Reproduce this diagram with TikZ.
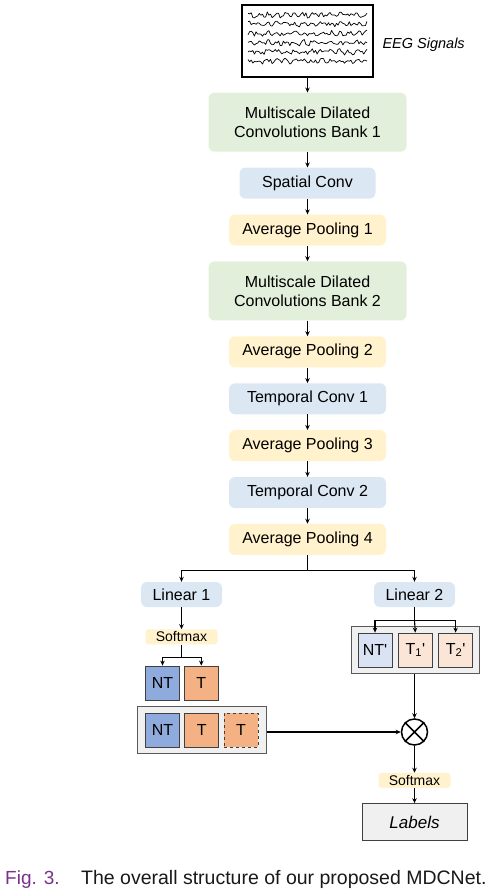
\documentclass[tikz,border=0pt]{standalone}
\usepackage{fontspec}
\setmainfont{Liberation Sans}
\usetikzlibrary{arrows.meta, positioning, fit, calc, backgrounds}
\definecolor{convgreen}{RGB}{226,239,218}
\definecolor{convblue}{RGB}{220,231,244}
\definecolor{poolyellow}{RGB}{255,242,204}
\definecolor{ntblue}{RGB}{143,170,220}
\definecolor{torange}{RGB}{244,177,131}
\definecolor{ntlight}{RGB}{218,227,243}
\definecolor{tlight}{RGB}{251,229,214}
\definecolor{boxgray}{RGB}{240,240,240}
\definecolor{figpurple}{RGB}{122,48,140}

\begin{document}
\begin{tikzpicture}[x=1pt, y=-1pt,
                every node/.style={font=\fontsize{16}{19}\selectfont},
                block/.style={rounded corners=6pt, minimum height=31pt, align=center, inner sep=0pt},
                bank/.style={block, fill=convgreen, minimum width=198pt, minimum height=59pt},
                conv/.style={block, fill=convblue, minimum width=157pt},
                pool/.style={block, fill=poolyellow, minimum width=157pt},
                soft/.style={block, fill=poolyellow, rounded corners=3pt, minimum width=72pt, minimum height=15pt, font=\fontsize{14}{16}\selectfont},
                cls/.style={draw=black!75, line width=0.8pt, minimum width=34pt, minimum height=34pt, inner sep=0pt},
                group/.style={draw=black!65, line width=1pt, fill=boxgray},
                arr/.style={-{Stealth[length=5pt, width=4.5pt]}, line width=1.1pt}]

                \useasboundingbox (0,0) rectangle (491,896);

                % EEG input
                \node[draw, line width=1.1pt, fill=white, minimum width=131pt, minimum height=72pt] (eeg) at (307.5,41) {};
                \pgfmathsetseed{42}
                \foreach \r in {15,24.2,33.4,42.6,51.8,61}
                    \draw[line width=0.7pt, line join=round] plot[samples=75, domain=248:367] (\x, {\r+1.2*sin(40*\x)+2.2*rand});
                \node[anchor=west, font=\fontsize{14.5}{17}\selectfont\itshape] (eeglabel) at (379,45) {EEG Signals};

                % Main column
                \node[bank, below=15pt of eeg] (bank1) {Multiscale Dilated\\Convolutions Bank 1};
                \node[conv, minimum width=136pt, below=15.5pt of bank1] (spatial) {Spatial Conv};
                \node[pool, below=15.5pt of spatial] (pool1) {Average Pooling 1};
                \node[bank, below=15.5pt of pool1] (bank2) {Multiscale Dilated\\Convolutions Bank 2};
                \node[pool, below=15.5pt of bank2] (pool2) {Average Pooling 2};
                \node[conv, below=15.5pt of pool2] (tconv1) {Temporal Conv 1};
                \node[pool, below=15.5pt of tconv1] (pool3) {Average Pooling 3};
                \node[conv, below=15.5pt of pool3] (tconv2) {Temporal Conv 2};
                \node[pool, below=15.5pt of tconv2] (pool4) {Average Pooling 4};

                \foreach \a/\b in {eeg/bank1, bank1/spatial, spatial/pool1, pool1/bank2, bank2/pool2, pool2/tconv1, tconv1/pool3, pool3/tconv2, tconv2/pool4}
                    \draw[arr] (\a) -- (\b);

                % Two heads
                \coordinate (split) at ($(pool4.south)+(0,15)$);
                \node[conv, minimum width=81pt, minimum height=25pt] (lin1) at (181.5,594.5) {Linear 1};
                \node[conv, minimum width=81pt, minimum height=25pt] (lin2) at (414.5,594.5) {Linear 2};
                \draw[arr] (pool4.south) -- (split) -| (lin1.north);
                \draw[arr] (split) -| (lin2.north);

                % Left head
                \node[soft, below=22pt of lin1] (soft1) {Softmax};
                \draw[arr] (lin1) -- (soft1);
                \node[cls, fill=ntblue] (nt) at (162.5,683) {NT};
                \node[cls, fill=torange, right=4pt of nt] (t) {T};
                \coordinate (softsplit) at ($(soft1.south)+(0,13)$);
                \draw[arr] (soft1.south) -- (softsplit) -| (nt.north);
                \draw[arr] (softsplit) -| (t.north);

                \node[cls, fill=ntblue] (ntb) at (162.5,730) {NT};
                \node[cls, fill=torange, right=4.5pt of ntb] (tb) {T};
                \node[cls, fill=torange, dashed, right=4.5pt of tb] (tpad) {T};
                \begin{scope}[on background layer]
                    \node[group, fit=(ntb)(tb)(tpad), inner xsep=8pt, inner ysep=6pt] (leftgroup) {};
                \end{scope}

                % Right head
                \node[cls, fill=ntlight] (ntr) at (375,650) {NT\textquotesingle};
                \node[cls, fill=tlight, right=5.5pt of ntr] (t1r) {T\textsubscript{1}\textquotesingle};
                \node[cls, fill=tlight, right=5.5pt of t1r] (t2r) {T\textsubscript{2}\textquotesingle};
                \begin{scope}[on background layer]
                    \node[group, fit=(ntr)(t1r)(t2r), inner sep=6pt] (rightgroup) {};
                \end{scope}
                \coordinate (linsplit) at ($(lin2.south)+(0,13)$);
                \draw[arr] (lin2.south) -- (linsplit) -| (ntr.north);
                \draw[arr] (linsplit) -| (t2r.north);
                \draw[arr] (linsplit) -- (t1r.north);

                % Fusion
                \node[circle, draw, line width=1.5pt, minimum size=26pt, inner sep=0pt] (mul) at (414.5,732) {};
                \draw[line width=1.5pt] (mul.north west) -- (mul.south east) (mul.north east) -- (mul.south west);
                \draw[arr] (rightgroup.south -| mul) -- (mul.north);
                \draw[arr] (mul -| leftgroup.east) -- (mul.west);

                \node[soft, below=27pt of mul] (soft2) {Softmax};
                \node[draw=black!75, line width=1pt, fill=boxgray, minimum width=105pt, minimum height=37pt, font=\fontsize{17}{20}\selectfont\itshape, below=15pt of soft2] (labels) {Labels};
                \draw[arr] (mul) -- (soft2);
                \draw[arr] (soft2) -- (labels);

                % Caption
                \node[anchor=base west, inner sep=0pt, text=figpurple, font=\fontsize{19}{22}\selectfont] (figtag) at (5,884) {Fig. 3.};
                \node[anchor=base west, inner sep=0pt, text=black!90, font=\fontsize{19.5}{22}\selectfont] (caption) at (81,884) {The overall structure of our proposed MDCNet.};
            \end{tikzpicture}
\end{document}
